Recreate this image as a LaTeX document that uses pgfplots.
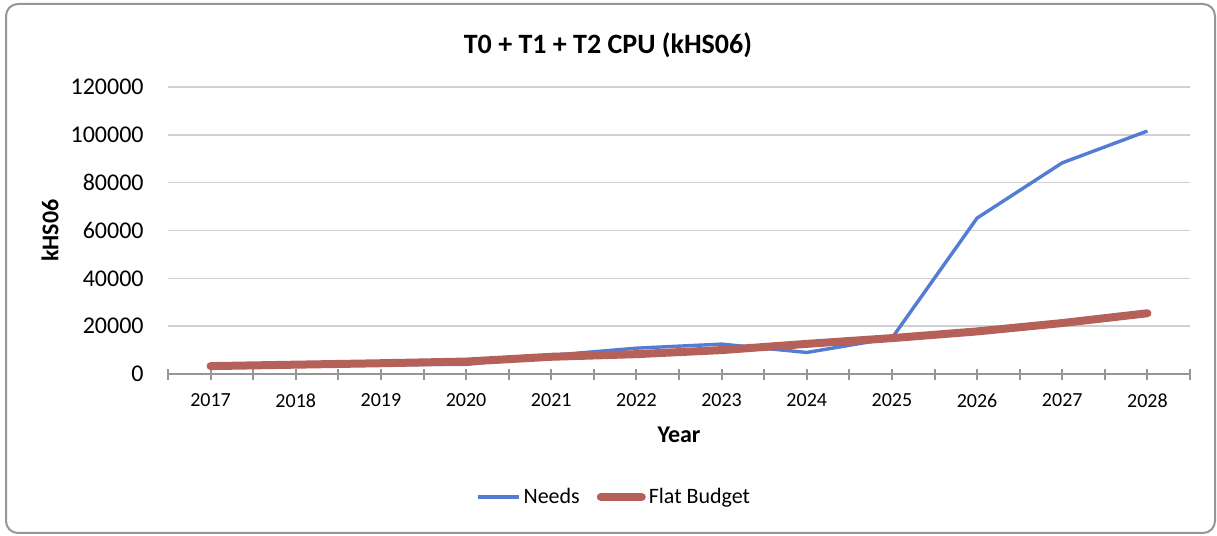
\documentclass[border=0pt]{standalone}
\usepackage{pgfplots}
\pgfplotsset{compat=1.18}
\usepackage{fontspec}
\setmainfont{Carlito}
\definecolor{needsblue}{RGB}{84,124,212}
\definecolor{flatred}{RGB}{182,96,90}
\definecolor{axgray}{RGB}{150,150,150}
\definecolor{gridgray}{RGB}{208,208,208}
\begin{document}
\begin{tikzpicture}
\useasboundingbox (0,0) rectangle (608.5pt,268pt);
\draw[axgray, line width=1pt, rounded corners=6pt] (3pt,1.5pt) rectangle (607.5pt,266pt);
\begin{axis}[
  at={(84pt,81pt)}, anchor=south west,
  scale only axis,
  width=511pt, height=143.5pt,
  xmin=-0.5, xmax=11.5,
  ymin=0, ymax=120000,
  scaled y ticks=false,
  axis x line*=bottom,
  axis y line*=left,
  y axis line style={draw=none},
  x axis line style={axgray, line width=1pt},
  xtick={0,...,11},
  xticklabels={2017,2018,2019,2020,2021,2022,2023,2024,2025,2026,2027,2028},
  minor xtick={-0.5,0.5,...,11.5},
  xtick align=center,
  major tick length=5.5pt,
  minor tick length=5.5pt,
  x tick style={axgray, line width=1pt},
  minor x tick style={axgray, line width=1pt},
  ytick={0,20000,40000,60000,80000,100000,120000},
  yticklabels={0,20000,40000,60000,80000,100000,120000},
  y tick style={draw=none},
  ymajorgrids,
  major grid style={gridgray, line width=0.8pt},
  yticklabel style={font=\fontsize{12}{14}\selectfont, anchor=east, inner sep=0pt, xshift=-12pt},
  xticklabel style={font=\fontsize{10}{12}\selectfont, anchor=north, inner sep=0pt, yshift=-7pt},
  title={\textbf{T0 + T1 + T2 CPU (kHS06)}},
  title style={font=\fontsize{14}{16}\selectfont, at={(axis description cs:0.4305,1.104)}, anchor=center, inner sep=0pt, yshift=0pt},
  xlabel={\textbf{Year}},
  xlabel style={font=\fontsize{12}{14}\selectfont, at={(axis description cs:0.5,-0.2125)}, anchor=center, inner sep=0pt},
  ylabel={\textbf{kHS06}},
  ylabel style={font=\fontsize{12}{14}\selectfont, at={(axis description cs:-0.1155,0.5)}, anchor=center, inner sep=0pt},
  legend columns=2,
  legend style={draw=none, fill=none, at={(axis description cs:0.437,-0.4286)}, anchor=center,
    font=\fontsize{11}{13}\selectfont, inner sep=0pt,
    nodes={inner xsep=1.5pt},
    /tikz/every even column/.append style={column sep=7pt}},
  legend image code/.code={\draw[#1] (0pt,0pt) -- (20.5pt,0pt);},
  clip=false,
]
\addplot[needsblue, line width=1.7pt, line join=round] coordinates {
  (0,3200) (1,3500) (2,3900) (3,4000) (4,7800) (5,10800) (6,12500)
  (7,9000) (8,15000) (9,65200) (10,88300) (11,101600)};
\addlegendentry{Needs}
\addplot[flatred, line width=4pt, line cap=round, line join=round] coordinates {
  (0,3300) (1,3900) (2,4500) (3,5200) (4,7200) (5,8300) (6,10000)
  (7,12600) (8,15000) (9,17800) (10,21300) (11,25400)};
\addlegendentry{Flat Budget}
\end{axis}
\end{tikzpicture}
\end{document}
